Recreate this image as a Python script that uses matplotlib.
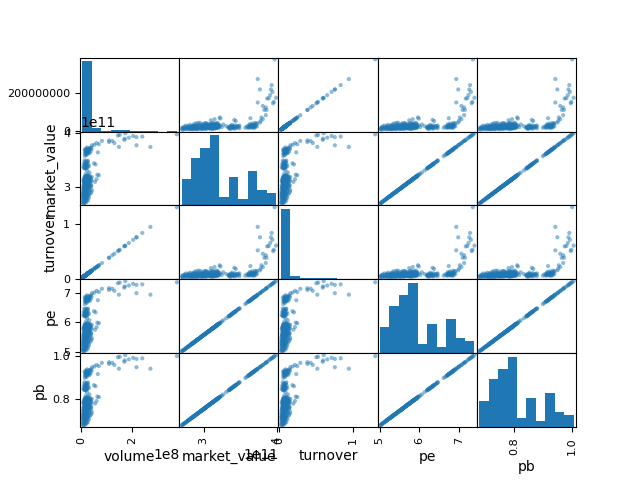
import matplotlib
matplotlib.use("Agg")
import matplotlib.pyplot as plt
import pandas as pd

# daily stock indicators

volume = [
    12e6, 9e6, 18e6, 5e6, 14e6, 22e6, 10e6, 16e6, 27e6, 8e6, 13e6, 19e6, 11e6, 24e6, 15e6, 7e6, 20e6, 13e6, 31e6, 17e6, 10e6,
    15e6, 22e6, 9e6, 18e6, 12e6, 28e6, 7e6, 20e6, 14e6, 25e6, 11e6, 17e6, 33e6, 13e6, 21e6, 8e6, 16e6, 26e6, 19e6, 12e6,
    38e6, 14e6, 23e6, 10e6, 17e6, 29e6, 13e6, 21e6, 7e6, 41e6, 16e6, 24e6, 11e6, 19e6, 32e6, 14e6, 42e6, 22e6,
    12e6, 20e6, 31e6, 15e6, 8e6, 24e6, 17e6, 13e6, 27e6, 19e6, 22e6, 10e6, 16e6, 35e6, 14e6, 21e6, 18e6, 26e6,
    11e6, 29e6, 16e6, 39e6, 20e6, 13e6, 24e6, 17e6, 38e6, 9e6, 22e6, 15e6, 40e6, 28e6, 19e6, 12e6, 23e6, 33e6,
    18e6, 26e6, 14e6, 21e6, 30e6, 16e6, 25e6, 19e6, 13e6, 36e6,
    16e6, 24e6, 11e6, 30e6, 19e6, 21e6, 14e6, 27e6, 55e6, 18e6, 33e6, 12e6, 23e6, 40e6, 15e6, 26e6, 20e6, 9e6,
    22e6, 17e6, 31e6, 13e6, 41e6, 25e6, 19e6, 36e6, 14e6, 21e6, 28e6, 16e6, 61e6, 11e6, 18e6, 24e6, 34e6, 20e6,
    15e6, 29e6, 22e6, 39e6, 13e6, 26e6, 19e6, 17e6, 32e6, 23e6, 14e6, 42e6, 28e6, 21e6, 18e6, 35e6, 25e6,
    16e6, 30e6, 22e6,
    70e6, 64e6, 27e6, 19e6, 33e6, 24e6, 17e6,
    18e6, 12e6, 22e6, 15e6, 9e6, 26e6, 19e6, 14e6, 31e6, 21e6, 16e6, 24e6, 13e6, 20e6, 57e6, 17e6, 28e6, 11e6,
    51e6, 19e6, 23e6, 15e6, 25e6,
    20e6, 13e6, 27e6, 15e6, 22e6,
    21e6, 15e6, 28e6, 18e6, 24e6, 34e6, 19e6, 66e6, 26e6, 16e6, 31e6, 22e6, 38e6, 17e6, 29e6, 25e6, 20e6,
    33e6, 23e6, 14e6, 27e6, 41e6, 19e6, 30e6, 36e6, 24e6, 40e6,
    273e6, 149e6, 218e6, 123e6, 131e6, 110e6, 110e6, 82e6, 70e6, 61e6, 52e6, 43e6,
    377e6, 218e6, 205e6, 241e6, 170e6, 172e6, 174e6, 145e6, 152e6, 188e6,
]

market_value = [
    2.70e11, 2.71e11, 2.72e11, 2.72e11, 2.73e11, 2.74e11, 2.74e11, 2.75e11, 2.76e11, 2.76e11, 2.77e11,
    2.78e11, 2.78e11, 2.79e11, 2.79e11, 2.80e11, 2.80e11, 2.81e11, 2.81e11, 2.82e11, 2.82e11,
    2.83e11, 2.83e11, 2.83e11, 2.84e11, 2.84e11, 2.84e11, 2.85e11, 2.85e11, 2.85e11, 2.86e11, 2.86e11, 2.86e11,
    2.87e11, 2.87e11, 2.87e11, 2.88e11, 2.88e11, 2.88e11, 2.89e11, 2.89e11, 2.89e11, 2.90e11, 2.90e11, 2.90e11,
    2.91e11, 2.91e11, 2.91e11, 2.92e11, 2.92e11, 2.92e11, 2.93e11, 2.93e11, 2.93e11, 2.94e11, 2.94e11,
    2.95e11, 2.95e11, 2.95e11,
    2.96e11, 2.96e11, 2.96e11, 2.97e11, 2.97e11, 2.97e11, 2.97e11, 2.98e11, 2.98e11, 2.98e11,
    2.99e11, 2.99e11, 2.99e11, 2.99e11, 3.00e11, 3.00e11, 3.00e11, 3.00e11, 3.01e11, 3.01e11, 3.01e11, 3.01e11,
    3.02e11, 3.02e11, 3.02e11, 3.03e11, 3.03e11, 3.03e11, 3.03e11, 3.04e11, 3.04e11, 3.04e11, 3.04e11,
    3.05e11, 3.05e11, 3.05e11, 3.06e11, 3.06e11, 3.06e11, 3.06e11, 3.07e11, 3.07e11, 3.07e11,
    3.08e11, 3.08e11, 3.08e11,
    3.09e11, 3.09e11, 3.09e11, 3.09e11, 3.09e11, 3.10e11, 3.10e11, 3.10e11, 3.10e11,
    3.11e11, 3.11e11, 3.11e11, 3.11e11, 3.11e11, 3.12e11, 3.12e11, 3.12e11, 3.12e11,
    3.13e11, 3.13e11, 3.13e11, 3.13e11, 3.13e11, 3.14e11, 3.14e11, 3.14e11, 3.14e11,
    3.15e11, 3.15e11, 3.15e11, 3.15e11, 3.15e11, 3.16e11, 3.16e11, 3.16e11, 3.16e11,
    3.17e11, 3.17e11, 3.17e11, 3.17e11, 3.17e11, 3.18e11, 3.18e11, 3.18e11, 3.18e11,
    3.19e11, 3.19e11, 3.19e11, 3.19e11, 3.19e11, 3.20e11, 3.20e11, 3.20e11, 3.21e11, 3.21e11, 3.21e11,
    3.22e11, 3.23e11, 3.23e11, 3.25e11, 3.27e11, 3.31e11, 3.34e11,
    3.35e11, 3.35e11, 3.36e11, 3.36e11, 3.37e11, 3.37e11, 3.38e11, 3.38e11, 3.39e11, 3.39e11,
    3.40e11, 3.40e11, 3.41e11, 3.41e11, 3.42e11, 3.42e11, 3.43e11, 3.43e11, 3.44e11, 3.44e11,
    3.45e11, 3.46e11, 3.47e11,
    3.48e11, 3.49e11, 3.49e11, 3.57e11, 3.59e11,
    3.61e11, 3.61e11, 3.62e11, 3.62e11, 3.63e11, 3.63e11, 3.64e11, 3.64e11, 3.65e11, 3.65e11, 3.65e11,
    3.66e11, 3.66e11, 3.67e11, 3.67e11, 3.68e11, 3.68e11, 3.69e11, 3.69e11, 3.69e11,
    3.70e11, 3.70e11, 3.71e11, 3.71e11, 3.72e11, 3.73e11, 3.73e11,
    3.74e11, 3.74e11, 3.77e11, 3.85e11, 3.81e11, 3.83e11, 3.86e11, 3.85e11, 3.79e11, 3.81e11, 3.78e11, 3.77e11,
    3.97e11, 3.92e11, 3.94e11, 3.93e11, 3.87e11, 3.89e11, 3.99e11, 3.95e11, 3.96e11, 3.91e11,
]

turnover = [
    0.0415, 0.0311, 0.0622, 0.0173, 0.0484, 0.0761, 0.0346, 0.0553, 0.0934, 0.0277, 0.0450,
    0.0657, 0.0380, 0.0830, 0.0519, 0.0242, 0.0692, 0.0450, 0.1072, 0.0588, 0.0346,
    0.0519, 0.0761, 0.0311, 0.0622, 0.0415, 0.0968, 0.0242, 0.0692, 0.0484, 0.0865, 0.0380, 0.0588,
    0.1141, 0.0450, 0.0726, 0.0277, 0.0553, 0.0899, 0.0657, 0.0415, 0.1314, 0.0484, 0.0795, 0.0346,
    0.0588, 0.1003, 0.0450, 0.0726, 0.0242, 0.1418, 0.0553, 0.0830, 0.0380, 0.0657, 0.1107,
    0.0484, 0.1452, 0.0761,
    0.0415, 0.0692, 0.1072, 0.0519, 0.0277, 0.0830, 0.0588, 0.0450, 0.0934, 0.0657,
    0.0761, 0.0346, 0.0553, 0.1210, 0.0484, 0.0726, 0.0622, 0.0899, 0.0380, 0.1003, 0.0553, 0.1349,
    0.0692, 0.0450, 0.0830, 0.0588, 0.1314, 0.0311, 0.0761, 0.0519, 0.1383, 0.0968, 0.0657,
    0.0415, 0.0795, 0.1141, 0.0622, 0.0899, 0.0484, 0.0726, 0.1037, 0.0553, 0.0865,
    0.0657, 0.0450, 0.1245,
    0.0553, 0.0830, 0.0380, 0.1037, 0.0657, 0.0726, 0.0484, 0.0934, 0.1902,
    0.0622, 0.1141, 0.0415, 0.0795, 0.1383, 0.0519, 0.0899, 0.0692, 0.0311,
    0.0761, 0.0588, 0.1072, 0.0450, 0.1418, 0.0865, 0.0657, 0.1245, 0.0484,
    0.0726, 0.0968, 0.0553, 0.2109, 0.0380, 0.0622, 0.0830, 0.1176, 0.0692,
    0.0519, 0.1003, 0.0761, 0.1349, 0.0450, 0.0899, 0.0657, 0.0588, 0.1107,
    0.0795, 0.0484, 0.1452, 0.0968, 0.0726, 0.0622, 0.1210, 0.0865, 0.0553, 0.1037, 0.0761,
    0.2421, 0.2213, 0.0934, 0.0657, 0.1141, 0.0830, 0.0588,
    0.0622, 0.0415, 0.0761, 0.0519, 0.0311, 0.0899, 0.0657, 0.0484, 0.1072, 0.0726,
    0.0553, 0.0830, 0.0450, 0.0692, 0.1971, 0.0588, 0.0968, 0.0380, 0.1764, 0.0657,
    0.0795, 0.0519, 0.0865,
    0.0692, 0.0450, 0.0934, 0.0519, 0.0761,
    0.0726, 0.0519, 0.0968, 0.0622, 0.0830, 0.1176, 0.0657, 0.2282, 0.0899, 0.0553, 0.1072,
    0.0761, 0.1314, 0.0588, 0.1003, 0.0865, 0.0692, 0.1141, 0.0795, 0.0484,
    0.0934, 0.1418, 0.0657, 0.1037, 0.1245, 0.0830, 0.1383,
    0.9440, 0.5152, 0.7538, 0.4253, 0.4530, 0.3804, 0.3804, 0.2836, 0.2421, 0.2109, 0.1798, 0.1487,
    1.3037, 0.7538, 0.7089, 0.8334, 0.5879, 0.5948, 0.6017, 0.5014, 0.5256, 0.6501,
]

pe = [
    5.01, 5.03, 5.05, 5.05, 5.06, 5.08, 5.08, 5.10, 5.12, 5.12, 5.14,
    5.16, 5.16, 5.18, 5.18, 5.19, 5.19, 5.21, 5.21, 5.23, 5.23,
    5.25, 5.25, 5.25, 5.27, 5.27, 5.27, 5.29, 5.29, 5.29, 5.31, 5.31, 5.31,
    5.32, 5.32, 5.32, 5.34, 5.34, 5.34, 5.36, 5.36, 5.36, 5.38, 5.38, 5.38,
    5.40, 5.40, 5.40, 5.42, 5.42, 5.42, 5.44, 5.44, 5.44, 5.45, 5.45,
    5.47, 5.47, 5.47,
    5.49, 5.49, 5.49, 5.51, 5.51, 5.51, 5.51, 5.53, 5.53, 5.53,
    5.55, 5.55, 5.55, 5.55, 5.57, 5.57, 5.57, 5.57, 5.58, 5.58, 5.58, 5.58,
    5.60, 5.60, 5.60, 5.62, 5.62, 5.62, 5.62, 5.64, 5.64, 5.64, 5.64,
    5.66, 5.66, 5.66, 5.68, 5.68, 5.68, 5.68, 5.69, 5.69, 5.69,
    5.71, 5.71, 5.71,
    5.73, 5.73, 5.73, 5.73, 5.73, 5.75, 5.75, 5.75, 5.75,
    5.77, 5.77, 5.77, 5.77, 5.77, 5.79, 5.79, 5.79, 5.79,
    5.81, 5.81, 5.81, 5.81, 5.81, 5.82, 5.82, 5.82, 5.82,
    5.84, 5.84, 5.84, 5.84, 5.84, 5.86, 5.86, 5.86, 5.86,
    5.88, 5.88, 5.88, 5.88, 5.88, 5.90, 5.90, 5.90, 5.90,
    5.92, 5.92, 5.92, 5.92, 5.92, 5.94, 5.94, 5.94, 5.95, 5.95, 5.95,
    5.97, 5.99, 5.99, 6.03, 6.07, 6.14, 6.20,
    6.21, 6.21, 6.23, 6.23, 6.25, 6.25, 6.27, 6.27, 6.29, 6.29,
    6.31, 6.31, 6.33, 6.33, 6.34, 6.34, 6.36, 6.36, 6.38, 6.38,
    6.40, 6.42, 6.44,
    6.46, 6.47, 6.47, 6.62, 6.66,
    6.70, 6.70, 6.72, 6.72, 6.73, 6.73, 6.75, 6.75, 6.77, 6.77, 6.77,
    6.79, 6.79, 6.81, 6.81, 6.83, 6.83, 6.85, 6.85, 6.85,
    6.86, 6.86, 6.88, 6.88, 6.90, 6.92, 6.92,
    6.94, 6.94, 6.99, 7.14, 7.07, 7.10, 7.16, 7.14, 7.03, 7.07, 7.01, 6.99,
    7.36, 7.27, 7.31, 7.29, 7.18, 7.22, 7.40, 7.33, 7.35, 7.25,
]

pb = [
    0.680, 0.682, 0.685, 0.685, 0.687, 0.690, 0.690, 0.692, 0.695, 0.695, 0.697,
    0.700, 0.700, 0.703, 0.703, 0.705, 0.705, 0.708, 0.708, 0.710, 0.710,
    0.713, 0.713, 0.713, 0.715, 0.715, 0.715, 0.718, 0.718, 0.718, 0.720, 0.720, 0.720,
    0.723, 0.723, 0.723, 0.725, 0.725, 0.725, 0.728, 0.728, 0.728, 0.730, 0.730, 0.730,
    0.733, 0.733, 0.733, 0.735, 0.735, 0.735, 0.738, 0.738, 0.738, 0.740, 0.740,
    0.743, 0.743, 0.743,
    0.745, 0.745, 0.745, 0.748, 0.748, 0.748, 0.748, 0.750, 0.750, 0.750,
    0.753, 0.753, 0.753, 0.753, 0.755, 0.755, 0.755, 0.755, 0.758, 0.758, 0.758, 0.758,
    0.760, 0.760, 0.760, 0.763, 0.763, 0.763, 0.763, 0.766, 0.766, 0.766, 0.766,
    0.768, 0.768, 0.768, 0.771, 0.771, 0.771, 0.771, 0.773, 0.773, 0.773,
    0.776, 0.776, 0.776,
    0.778, 0.778, 0.778, 0.778, 0.778, 0.781, 0.781, 0.781, 0.781,
    0.783, 0.783, 0.783, 0.783, 0.783, 0.786, 0.786, 0.786, 0.786,
    0.788, 0.788, 0.788, 0.788, 0.788, 0.791, 0.791, 0.791, 0.791,
    0.793, 0.793, 0.793, 0.793, 0.793, 0.796, 0.796, 0.796, 0.796,
    0.798, 0.798, 0.798, 0.798, 0.798, 0.801, 0.801, 0.801, 0.801,
    0.803, 0.803, 0.803, 0.803, 0.803, 0.806, 0.806, 0.806, 0.808, 0.808, 0.808,
    0.811, 0.813, 0.813, 0.818, 0.823, 0.834, 0.841,
    0.844, 0.844, 0.846, 0.846, 0.849, 0.849, 0.851, 0.851, 0.854, 0.854,
    0.856, 0.856, 0.859, 0.859, 0.861, 0.861, 0.864, 0.864, 0.866, 0.866,
    0.869, 0.871, 0.874,
    0.876, 0.879, 0.879, 0.899, 0.904,
    0.909, 0.909, 0.912, 0.912, 0.914, 0.914, 0.917, 0.917, 0.919, 0.919, 0.919,
    0.922, 0.922, 0.924, 0.924, 0.927, 0.927, 0.929, 0.929, 0.929,
    0.932, 0.932, 0.934, 0.934, 0.937, 0.939, 0.939,
    0.942, 0.942, 0.949, 0.969, 0.959, 0.964, 0.972, 0.969, 0.954, 0.959, 0.952, 0.949,
    1.000, 0.987, 0.992, 0.990, 0.974, 0.980, 1.005, 0.995, 0.997, 0.985,
]

df = pd.DataFrame({
    "volume": volume,
    "market_value": market_value,
    "turnover": turnover,
    "pe": pe,
    "pb": pb,
})

pd.plotting.scatter_matrix(df)

plt.savefig("out.png", dpi=100)
